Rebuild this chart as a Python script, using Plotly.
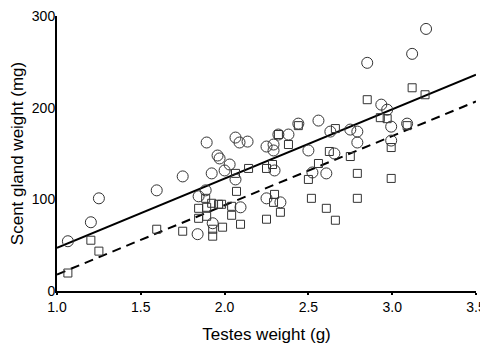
import plotly.graph_objects as go
import numpy as np

# Group 1 (open circles)
circle_x = [1.065, 1.202, 1.25, 1.595, 1.75, 1.845, 1.887, 1.893, 1.923, 1.958, 1.970, 2.0, 2.030,
            2.065, 2.089, 2.137, 2.065, 2.095, 1.929, 1.839, 2.25, 2.292, 2.292, 2.321, 2.381, 2.440,
            2.560, 2.5, 2.298, 2.524, 2.607, 2.25, 2.333, 2.631, 2.75, 2.792, 2.792, 2.655, 2.851,
            2.935, 2.970, 2.994, 2.994, 3.089, 3.119, 3.202]
circle_y = [54.3, 75.0, 101.1, 109.8, 125.0, 103.3, 109.8, 162.0, 128.3, 147.8, 144.6, 131.5, 138.0,
            167.4, 162.0, 163.0, 121.7, 91.3, 73.9, 62.0, 157.6, 159.8, 153.3, 170.7, 170.7, 182.6,
            185.9, 153.3, 131.5, 129.3, 128.3, 101.1, 96.7, 173.9, 176.1, 173.9, 162.0, 150.0, 248.9,
            203.3, 197.8, 179.3, 164.1, 182.6, 258.7, 285.9]

# Group 2 (open squares)
square_x = [1.065, 1.202, 1.25, 1.595, 1.75, 1.845, 1.845, 1.887, 1.893, 1.893, 1.923, 1.929, 1.929,
            1.964, 1.982, 1.988, 2.042, 2.042, 2.065, 2.071, 2.095, 2.143, 2.25, 2.25, 2.286, 2.298,
            2.292, 2.333, 2.321, 2.381, 2.440, 2.5, 2.518, 2.560, 2.607, 2.625, 2.661, 2.661, 2.75,
            2.792, 2.792, 2.851, 2.929, 2.970, 2.994, 2.994, 3.089, 3.119, 3.196]
square_y = [19.6, 55.4, 43.5, 67.4, 65.2, 90.2, 79.3, 101.1, 91.3, 81.5, 95.7, 67.4, 59.8,
            94.6, 94.6, 69.6, 92.4, 82.6, 128.3, 108.7, 72.8, 133.7, 78.3, 133.7, 138.0, 105.4,
            96.7, 85.9, 170.7, 159.8, 180.4, 121.7, 101.1, 139.1, 90.2, 152.2, 177.2, 77.2, 146.7,
            128.3, 101.1, 208.7, 189.1, 188.0, 156.5, 122.8, 180.4, 221.7, 214.1]

# Regression lines: value at x=1.0 and slope
fit_x_range = [1.0, 3.5]
solid_fit = {"y_at_1": 47.0, "slope": 75.6}
dashed_fit = {"y_at_1": 18.0, "slope": 75.5}

x_ticks = [1.0, 1.5, 2.0, 2.5, 3.0, 3.5]
x_tick_labels = ["1.0", "1.5", "2.0", "2.5", "3.0", "3.5"]
y_ticks = [0, 100, 200, 300]
y_tick_labels = ["0", "100", "200", "300"]

fx = np.array(fit_x_range)

fig = go.Figure()
fig.add_trace(go.Scatter(x=fx, y=solid_fit["y_at_1"] + solid_fit["slope"] * (fx - 1.0),
                         mode="lines", line=dict(color="black", width=2), showlegend=False))
fig.add_trace(go.Scatter(x=fx, y=dashed_fit["y_at_1"] + dashed_fit["slope"] * (fx - 1.0),
                         mode="lines", line=dict(color="black", width=2, dash="9px,6px"), showlegend=False))
fig.add_trace(go.Scatter(x=circle_x, y=circle_y, mode="markers",
                         marker=dict(symbol="circle-open", size=11, color="#333333", line=dict(width=1)),
                         showlegend=False))
fig.add_trace(go.Scatter(x=square_x, y=square_y, mode="markers",
                         marker=dict(symbol="square-open", size=8, color="#333333", line=dict(width=1)),
                         showlegend=False))

font = "Liberation Sans, Arial, sans-serif"
fig.update_layout(
    width=480, height=342,
    margin=dict(l=49, r=12, t=8, b=59),
    paper_bgcolor="white", plot_bgcolor="white",
    font=dict(family=font, color="black"),
    xaxis=dict(range=[1.0, 3.5], tickvals=x_ticks, ticktext=x_tick_labels, automargin=False,
               showgrid=False, zeroline=False, showline=True, linecolor="black", linewidth=2,
               ticks="outside", ticklen=2, tickwidth=2, tickcolor="black", ticklabeloverflow="allow",
               tickfont=dict(size=14, family=font),
               title=dict(text="Testes weight (g)", font=dict(size=17, family=font), standoff=14)),
    yaxis=dict(range=[0, 300], tickvals=y_ticks, ticktext=y_tick_labels, automargin=False,
               showgrid=False, zeroline=False, showline=True, linecolor="black", linewidth=2,
               ticks="", ticklabelstandoff=-3, ticklabeloverflow="allow", tickfont=dict(size=14, family=font),
               title=dict(text="Scent gland weight (mg)", font=dict(size=17, family=font), standoff=4)),
)

fig.write_html("out.html")
